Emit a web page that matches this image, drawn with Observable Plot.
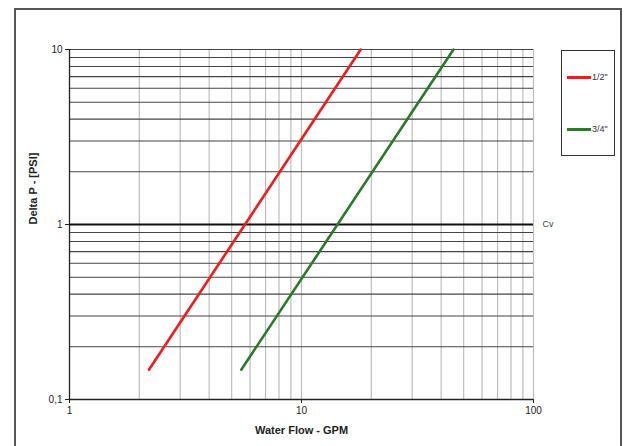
<!DOCTYPE html>
<html>
<head>
<meta charset="utf-8">
<script src="https://cdn.jsdelivr.net/npm/d3@7"></script>
<script src="https://cdn.jsdelivr.net/npm/@observablehq/plot@0.6"></script>
<style>
  html, body { margin: 0; padding: 0; background: #fff; }
  #wrap { position: relative; width: 626px; height: 446px; overflow: hidden; font-family: "Liberation Sans", Arial, sans-serif; }
  #frame { position: absolute; left: 14px; top: 8px; width: 608px; height: 460px; border: 2px solid #555; box-sizing: border-box; }
  #chart { position: absolute; left: 0; top: 0; }
  #legend { position: absolute; left: 561px; top: 50px; width: 54px; height: 106px; border: 1px solid #333; box-sizing: border-box; background: #fff; font-size: 9px; color: #333; }
  .item { position: absolute; left: 5px; display: flex; align-items: center; }
  .sw { width: 24px; height: 3px; margin-right: 1px; }
</style>
</head>
<body>
<div id="wrap">
  <div id="frame"></div>
  <div id="chart"></div>
  <div id="legend"></div>
</div>
<script>
// Series names and colours
const seriesNames = ["1/2\"", "3/4\""];
const seriesColors = ["#f21b1b", "#2a7a2a"];
// Read end points of each line (flow GPM, delta P PSI)
const halfFlow = [2.2, 18];
const halfDP = [0.148, 10];
const threeQFlow = [5.5, 45.2];
const threeQDP = [0.148, 10];
// Ticks and labels
const xTicks = [1, 10, 100];
const xTickLabels = ["1", "10", "100"];
const yTicks = [0.1, 1, 10];
const yTickLabels = ["0,1", "1", "10"];
const xGrid = [2, 3, 4, 5, 6, 7, 8, 9, 10, 20, 30, 40, 50, 60, 70, 80, 90, 100];
const yGrid = [0.2, 0.3, 0.4, 0.5, 0.6, 0.7, 0.8, 0.9, 2, 3, 4, 5, 6, 7, 8, 9, 10];
const cvLevel = [1];
const cvLabel = "Cv";
const xTitle = "Water Flow - GPM";
const yTitle = "Delta P - [PSI]";

const lines = [
  ...halfFlow.map((f, i) => ({flow: f, dp: halfDP[i], s: seriesNames[0]})),
  ...threeQFlow.map((f, i) => ({flow: f, dp: threeQDP[i], s: seriesNames[1]}))
];
const xFmt = d => xTickLabels[xTicks.findIndex(t => Math.abs(t - d) < 1e-9)];
const yFmt = d => yTickLabels[yTicks.findIndex(t => Math.abs(t - d) < 1e-9)];

const chart = Plot.plot({
  width: 626,
  height: 446,
  marginLeft: 69,
  marginRight: 93,
  marginTop: 49,
  marginBottom: 47,
  style: {fontFamily: "Liberation Sans, Arial, sans-serif", fontSize: "10px", color: "#222", background: "transparent"},
  x: {type: "log", domain: [1, 100]},
  y: {type: "log", domain: [0.1, 10]},
  color: {domain: seriesNames, range: seriesColors},
  marks: [
    Plot.ruleX(xGrid, {stroke: "#bdbdbd", strokeWidth: 1.2}),
    Plot.ruleY(yGrid, {stroke: "#444", strokeWidth: 1.1}),
    Plot.ruleY(cvLevel, {stroke: "#111", strokeWidth: 2}),
    Plot.text(cvLevel, {x: () => 100, y: d => d, text: () => cvLabel, textAnchor: "start", dx: 9, fontSize: 9, fill: "#444"}),
    Plot.ruleX([1], {stroke: "#222", strokeWidth: 1.3}),
    Plot.ruleY([0.1], {stroke: "#222", strokeWidth: 1.3}),
    Plot.axisX(xTicks, {tickFormat: xFmt, tickSize: 4, tickPadding: 3, fontSize: 10, label: null, stroke: "#222"}),
    Plot.axisY(yTicks, {tickFormat: yFmt, tickSize: 4, tickPadding: 3, fontSize: 10, label: null, stroke: "#222"}),
    Plot.line(lines, {x: "flow", y: "dp", z: "s", stroke: "s", strokeWidth: 2.6}),
    Plot.text([xTitle], {frameAnchor: "bottom", dy: 34, fontWeight: "bold", fontSize: 11, fill: "#222"}),
    Plot.text([yTitle], {frameAnchor: "left", dx: -36, rotate: -90, fontWeight: "bold", fontSize: 11, fill: "#222"})
  ]
});
document.getElementById("chart").appendChild(chart);

const legend = document.getElementById("legend");
const tops = [21, 73];
seriesNames.forEach((name, i) => {
  const it = document.createElement("div");
  it.className = "item";
  it.style.top = tops[i] + "px";
  const sw = document.createElement("div");
  sw.className = "sw";
  sw.style.background = seriesColors[i];
  const lb = document.createElement("span");
  lb.textContent = name;
  it.appendChild(sw);
  it.appendChild(lb);
  legend.appendChild(it);
});
</script>
</body>
</html>
